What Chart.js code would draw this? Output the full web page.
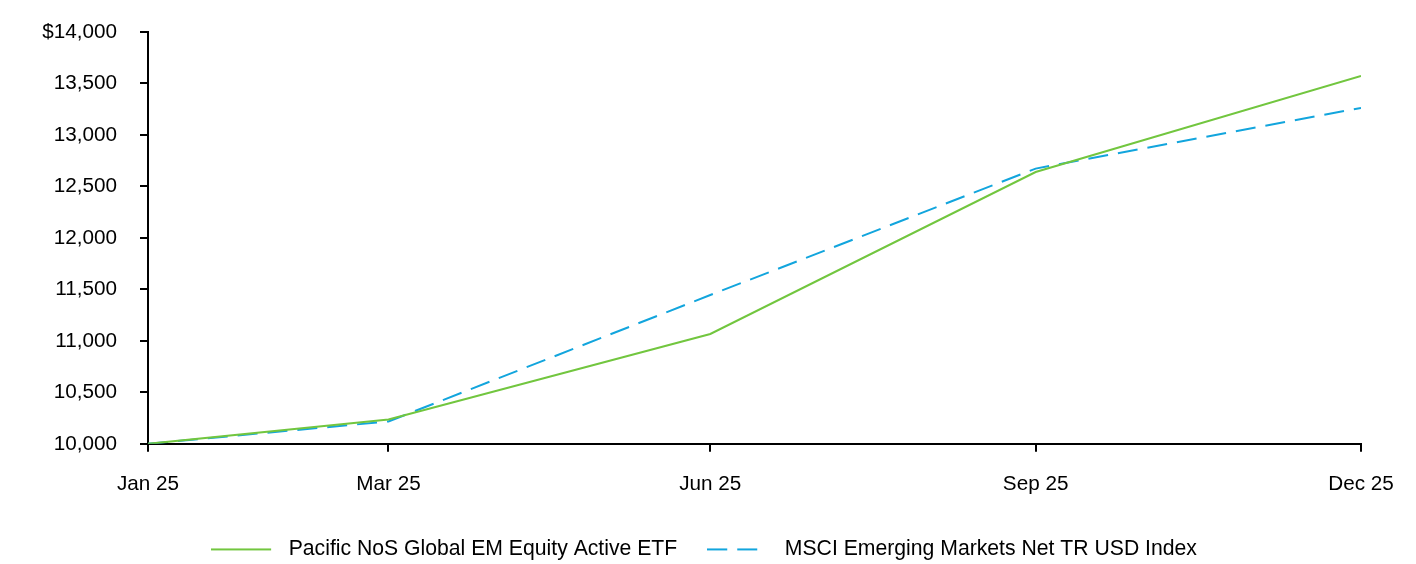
<!DOCTYPE html>
<html>
<head>
<meta charset="utf-8">
<script src="https://cdn.jsdelivr.net/npm/chart.js@4/dist/chart.umd.min.js"></script>
<style>
  html, body { margin: 0; padding: 0; background: #ffffff; }
  #wrap { width: 1416px; height: 564px; position: relative; }
</style>
</head>
<body>
<div id="wrap"><canvas id="growthChart"></canvas></div>
<script>
// x positions are days since fund inception (22 Jan 2025)
const xLabels = ["Jan 25", "Mar 25", "Jun 25", "Sep 25", "Dec 25"];
const xDays = [0, 68, 159, 251, 343];

// growth of $10,000
const fundValues = [10000, 10236, 11067, 12640, 13572];
const indexValues = [10000, 10217, 11445, 12673, 13263];

const yTicks = [10000, 10500, 11000, 11500, 12000, 12500, 13000, 13500, 14000];

const seriesNames = ["Pacific NoS Global EM Equity Active ETF", "MSCI Emerging Markets Net TR USD Index"];
const seriesColors = ["#72c63f", "#12a5dd"];
const seriesDash = [[], [20, 10]];

const FONT = "'Liberation Sans', Arial, sans-serif";
const TICK_SIZE = 20.7;
const LEGEND_SIZE = 21.2;

/**
 * Builds a small canvas used as the legend swatch: a 60px line with room after it.
 */
function legendSwatch(color, dash) {
  const c = document.createElement("canvas");
  c.width = 67;
  c.height = 4;
  const g = c.getContext("2d");
  g.strokeStyle = color;
  g.lineWidth = 2;
  g.setLineDash(dash);
  g.beginPath();
  g.moveTo(0, 2);
  g.lineTo(60, 2);
  g.stroke();
  return c;
}

const toPoints = (values) => values.map((v, i) => ({ x: xDays[i], y: v }));

new Chart(document.getElementById("growthChart"), {
  type: "line",
  data: {
    datasets: [
      {
        label: seriesNames[0],
        data: toPoints(fundValues),
        borderColor: seriesColors[0],
        borderWidth: 2,
        borderDash: seriesDash[0],
        pointRadius: 0,
        tension: 0,
      },
      {
        label: seriesNames[1],
        data: toPoints(indexValues),
        borderColor: seriesColors[1],
        borderWidth: 2,
        borderDash: seriesDash[1],
        pointRadius: 0,
        tension: 0,
      },
    ],
  },
  options: {
    responsive: true,
    maintainAspectRatio: false,
    animation: false,
    layout: { padding: { left: 0, right: 8, top: 32, bottom: -6 } },
    plugins: {
      tooltip: { enabled: false },
      legend: {
        position: "bottom",
        labels: {
          color: "#000",
          font: { family: FONT, size: LEGEND_SIZE },
          usePointStyle: true,
          pointStyleWidth: 67,
          boxHeight: 4,
          padding: 30,
          generateLabels: (chart) =>
            chart.data.datasets.map((ds, i) => ({
              text: ds.label,
              fillStyle: ds.borderColor,
              strokeStyle: ds.borderColor,
              lineWidth: 0,
              pointStyle: legendSwatch(seriesColors[i], seriesDash[i]),
              datasetIndex: i,
              hidden: false,
            })),
        },
      },
    },
    scales: {
      x: {
        type: "linear",
        min: xDays[0],
        max: xDays[xDays.length - 1],
        afterBuildTicks: (scale) => {
          scale.ticks = xDays.map((d) => ({ value: d }));
        },
        afterFit: (scale) => {
          scale.height = 65;
        },
        ticks: {
          color: "#000",
          font: { family: FONT, size: TICK_SIZE },
          padding: 20,
          maxRotation: 0,
          autoSkip: false,
          callback: (value) => xLabels[xDays.indexOf(value)] ?? "",
        },
        grid: { drawOnChartArea: false, drawTicks: true, tickLength: 8, color: "#000", lineWidth: 2 },
        border: { display: true, color: "#000", width: 2 },
      },
      y: {
        min: yTicks[0],
        max: yTicks[yTicks.length - 1],
        afterBuildTicks: (scale) => {
          scale.ticks = yTicks.map((v) => ({ value: v }));
        },
        afterFit: (scale) => {
          scale.width = 148;
          // label padding should push labels sideways only, not shrink the plot
          scale.paddingTop = 0;
          scale.paddingBottom = 0;
        },
        ticks: {
          color: "#000",
          font: { family: FONT, size: TICK_SIZE },
          padding: 23,
          callback: (value) => (value === yTicks[yTicks.length - 1] ? "$" : "") + value.toLocaleString("en-US"),
        },
        grid: { drawOnChartArea: false, drawTicks: true, tickLength: 8, color: "#000", lineWidth: 2 },
        border: { display: true, color: "#000", width: 2 },
      },
      // empty right-hand gutter so the legend stays centred under the page
      gutter: {
        position: "right",
        display: true,
        ticks: { display: false },
        grid: { display: false },
        border: { display: false },
        afterFit: (scale) => {
          scale.width = 47;
        },
      },
    },
  },
});
</script>
</body>
</html>
